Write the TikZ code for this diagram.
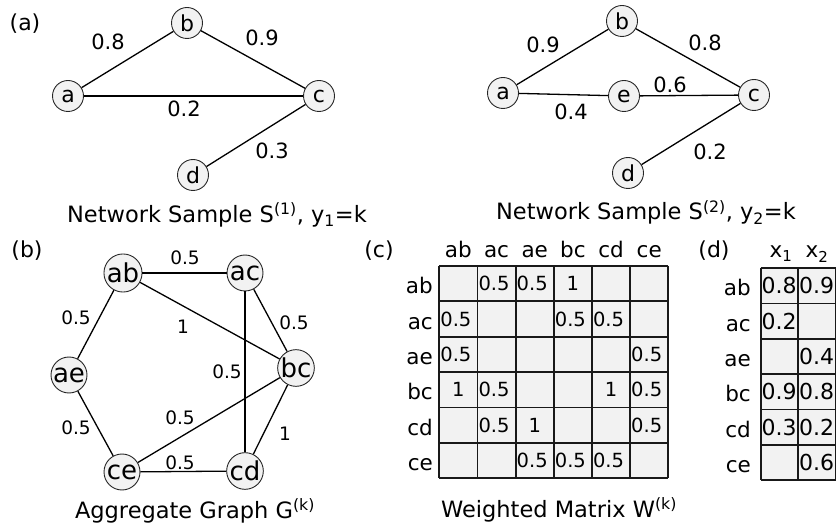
\documentclass[tikz,border=0pt]{standalone}
\usepackage{fontspec}
\setmainfont{DejaVu Sans}
\definecolor{cellgray}{HTML}{F2F2F2}
\begin{document}
\begin{tikzpicture}[x=1pt,y=-1pt,
  vtx/.style={circle,draw=black!85,line width=0.9pt,fill=cellgray,inner sep=0pt,minimum size=31pt,font=\fontsize{22}{26}\selectfont},
  bvtx/.style={vtx,minimum size=36pt,font=\fontsize{26}{30}\selectfont},
  elab/.style={inner sep=0pt,font=\fontsize{21}{24}\selectfont},
  blab/.style={inner sep=0pt,font=\fontsize{18.5}{22}\selectfont},
  lnk/.style={line width=1.3pt},
  ttl/.style={anchor=base,inner sep=0pt,font=\fontsize{22.5}{26}\selectfont},
  plab/.style={inner sep=0pt,font=\fontsize{22}{26}\selectfont},
  rlab/.style={anchor=base east,inner sep=0pt,font=\fontsize{21.5}{26}\selectfont},
  hlab/.style={anchor=base,inner sep=0pt,font=\fontsize{21.5}{26}\selectfont},
  ent/.style={anchor=base,inner sep=0pt,font=\fontsize{19.5}{24}\selectfont},
  dent/.style={anchor=base,inner sep=0pt,font=\fontsize{22}{26}\selectfont},
  gridline/.style={line width=1.8pt,draw=black!90}]
\useasboundingbox (0,0) rectangle (836,529);

% ---------------- (a) left ----------------
\node[plab] (pa) at (25,24) {(a)};
\node[vtx] (a1) at (68,96) {a};
\node[vtx] (b1) at (187,23) {b};
\node[vtx] (c1) at (319,96) {c};
\node[vtx] (d1) at (193,175) {d};
\draw[lnk] (a1) -- (b1);
\draw[lnk] (b1) -- (c1);
\draw[lnk] (a1) -- (c1);
\draw[lnk] (c1) -- (d1);
\node[elab] (l1ab) at (108,42) {0.8};
\node[elab] (l1bc) at (262,38) {0.9};
\node[elab] (l1ac) at (184,109) {0.2};
\node[elab] (l1cd) at (272,151) {0.3};
\node[ttl] (t1) at (217,222.5) {Network Sample S\textsuperscript{(1)}, y\textsubscript{1}=k};

% ---------------- (a) right ----------------
\node[vtx] (a2) at (503,93) {a};
\node[vtx] (b2) at (622,21) {b};
\node[vtx] (e2) at (624,96) {e};
\node[vtx] (c2) at (754,95) {c};
\node[vtx] (d2) at (628,173) {d};
\draw[lnk] (a2) -- (b2);
\draw[lnk] (b2) -- (c2);
\draw[lnk] (a2) -- (e2);
\draw[lnk] (e2) -- (c2);
\draw[lnk] (c2) -- (d2);
\node[elab] (l2ab) at (543,45) {0.9};
\node[elab] (l2bc) at (705,43) {0.8};
\node[elab] (l2ec) at (670,85) {0.6};
\node[elab] (l2ae) at (571,112) {0.4};
\node[elab] (l2cd) at (710,152) {0.2};
\node[ttl] (t2) at (646,220) {Network Sample S\textsuperscript{(2)}, y\textsubscript{2}=k};

% ---------------- (b) ----------------
\node[plab] (pb) at (27,251) {(b)};
\node[bvtx] (ab) at (123,273) {ab};
\node[bvtx] (ac) at (245,273) {ac};
\node[bvtx] (ae) at (69,375) {ae};
\node[bvtx] (bc) at (296,368) {bc};
\node[bvtx] (ce) at (122,472) {ce};
\node[bvtx] (cd) at (245,471) {cd};
\draw[lnk] (ab) -- (ac);
\draw[lnk] (ab) -- (ae);
\draw[lnk] (ab) -- (bc);
\draw[lnk] (ac) -- (bc);
\draw[lnk] (ac) -- (cd);
\draw[lnk] (ae) -- (ce);
\draw[lnk] (ce) -- (bc);
\draw[lnk] (bc) -- (cd);
\draw[lnk] (ce) -- (cd);
\node[blab] (m1) at (185,258) {0.5};
\node[blab] (m2) at (76,318) {0.5};
\node[blab] (m3) at (183,327) {1};
\node[blab] (m4) at (294,323) {0.5};
\node[blab] (m5) at (227,372) {0.5};
\node[blab] (m6) at (76,428) {0.5};
\node[blab] (m7) at (180,418) {0.5};
\node[blab] (m8) at (285,434) {1};
\node[blab] (m9) at (180,463) {0.5};
\node[ttl] (t3) at (195,518) {Aggregate Graph G\textsuperscript{(k)}};

% ---------------- (c) ----------------
\node[plab] (pc) at (379,251) {(c)};
\fill[cellgray] (439.3,266) rectangle (668.3,478.3);
\foreach \i in {0,...,6} {
  \draw[gridline] ({439.3+38.17*\i},266) -- ({439.3+38.17*\i},478.3);
  \draw[gridline] (439.3,{266+35.38*\i}) -- (668.3,{266+35.38*\i});
}
\foreach \n [count=\k from 0] in {ab,ac,ae,bc,cd,ce} {
  \node[hlab] (ch-\n) at ({439.3+38.17*(\k+0.5)},257.7) {\n};
  \node[rlab] (cr-\n) at (433,{266+35.38*(\k+0.5)+10}) {\n};
}
\foreach \r/\c/\v/\dx in {0/1/0.5/-2.5,0/2/0.5/-2.5,0/3/1/0,
  1/0/0.5/-2.5,1/3/0.5/-2.5,1/4/0.5/-2.5,
  2/0/0.5/-2.5,2/5/0.5/-2.5,
  3/0/1/0,3/1/0.5/-2.5,3/4/1/0,3/5/0.5/-2.5,
  4/1/0.5/-2.5,4/2/1/0,4/5/0.5/-2.5,
  5/2/0.5/-2.5,5/3/0.5/-2.5,5/4/0.5/-2.5} {
  \node[ent] (w-\r-\c) at ({439.3+38.17*(\c+0.5)+\dx},{266+35.38*(\r+0.5)+7}) {\v};
}
\node[ttl] (t4) at (559,517) {Weighted Matrix W\textsuperscript{(k)}};

% ---------------- (d) ----------------
\node[plab] (pd) at (714,251) {(d)};
\fill[cellgray] (760.7,268.3) rectangle (838,480);
\foreach \i in {0,1,2} {
  \draw[gridline] ({760.7+37.6*\i},268.3) -- ({760.7+37.6*\i},480);
}
\foreach \i in {0,...,6} {
  \draw[gridline] (760.7,{268.3+35.28*\i}) -- (838,{268.3+35.28*\i});
}
\node[hlab] (dx1) at (781,258) {x\textsubscript{1}};
\node[hlab] (dx2) at (817,258) {x\textsubscript{2}};
\foreach \n [count=\k from 0] in {ab,ac,ae,bc,cd,ce} {
  \node[rlab] (dr-\n) at (751,{268.3+35.28*(\k+0.5)+10}) {\n};
}
\foreach \r/\c/\v in {0/0/0.8,0/1/0.9,1/0/0.2,2/1/0.4,3/0/0.9,3/1/0.8,4/0/0.3,4/1/0.2,5/1/0.6} {
  \node[dent] (x-\r-\c) at ({760.7+37.6*(\c+0.5)-0.5},{268.3+35.28*(\r+0.5)+8}) {\v};
}
\end{tikzpicture}
\end{document}
